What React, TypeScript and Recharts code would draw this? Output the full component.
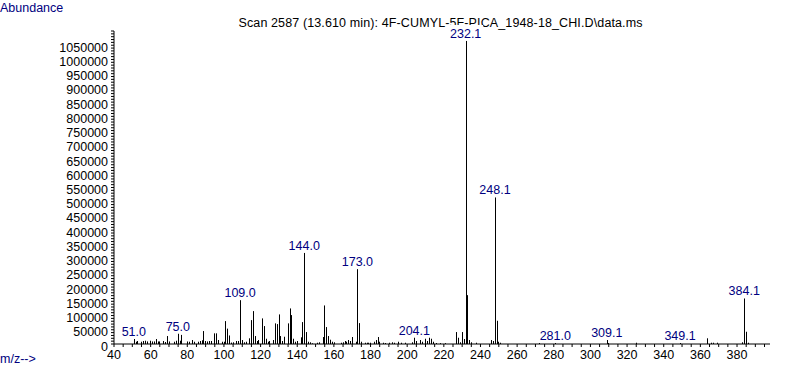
import React from 'react';
import { BarChart, Bar, XAxis, YAxis, LabelList } from 'recharts';

const mzValues: number[] = [
  51, 52, 53, 55, 56, 57, 58, 60, 61, 62, 63, 64, 65, 67, 68, 69, 70, 73, 74, 75,
  76, 77, 80, 81, 83, 84, 86, 87, 88, 89, 90, 91, 92, 93, 95, 96, 97, 99, 100, 101,
  102, 103, 104, 105, 107, 108, 109, 110, 111, 112, 114, 115, 116, 117, 118, 119, 121, 122, 123, 124,
  125, 127, 128, 129, 130, 131, 132, 133, 135, 136, 137, 138, 139, 140, 142, 143, 144, 145, 146, 147,
  148, 151, 152, 154, 155, 156, 157, 158, 159, 160, 164, 165, 166, 167, 168, 169, 170, 172, 173, 174,
  175, 177, 178, 179, 180, 182, 183, 184, 185, 187, 188, 190, 192, 193, 195, 197, 199, 203, 204.1, 205,
  207, 208, 210, 211, 212, 213, 214, 216, 218, 221, 227, 228, 229, 230, 231, 232.1, 233, 234, 235, 238,
  246, 247, 248.1, 249, 250, 251, 272, 281, 309.1, 310, 325, 349.1, 364, 366, 367, 369, 383, 384.1, 385, 386,
];

const abundanceValues: number[] = [
  17500, 8000, 10500, 8000, 10500, 11500, 9000, 11500, 9000, 9000, 17500, 9000, 9000, 10500, 7000, 28000, 9000, 8000, 11500, 36000,
  11500, 32000, 9000, 8000, 14000, 8000, 8000, 10500, 13000, 45500, 10500, 9000, 10500, 10500, 37500, 37500, 14000, 8000, 8000, 80500,
  54000, 30000, 5000, 6000, 10500, 10500, 154000, 14000, 6000, 8000, 20000, 84000, 115600, 28000, 10500, 14000, 90000, 63000, 18500, 8000,
  10500, 14000, 72500, 70000, 104000, 28000, 10500, 25500, 72500, 125000, 101600, 18500, 8000, 10500, 23500, 77000, 320000, 42000, 8000, 6000,
  2500, 4500, 6000, 24500, 135500, 59500, 28000, 15000, 8000, 6000, 4500, 6000, 10500, 8000, 14000, 10500, 24500, 8000, 263000, 73500,
  8000, 4500, 4500, 4500, 4500, 8000, 14000, 24500, 8000, 4500, 3500, 4500, 6000, 4500, 8000, 4500, 4500, 6000, 22000, 10500,
  14000, 8000, 18500, 10500, 22000, 18500, 8000, 3500, 3000, 3000, 42000, 22000, 6000, 42000, 17500, 1065000, 171700, 14000, 6000, 4500,
  14000, 10500, 515000, 81700, 8000, 4500, 3500, 3500, 14000, 3500, 4500, 3500, 20000, 4500, 4500, 4500, 6000, 160000, 43000, 4500,
];

const labeledMz: number[] = [51, 75, 109, 144, 173, 204.1, 232.1, 248.1, 281, 309.1, 349.1, 384.1];
const labelTexts: string[] = ['51.0', '75.0', '109.0', '144.0', '173.0', '204.1', '232.1', '248.1', '281.0', '309.1', '349.1', '384.1'];

const xTickValues: number[] = [];
for (let v = 40; v <= 395; v += 5) xTickValues.push(v);
const yTickValues: number[] = [];
for (let v = 0; v <= 1100000; v += 10000) yTickValues.push(v);

const data = mzValues.map((m, i) => {
  const li = labeledMz.indexOf(m);
  return { mz: m, abundance: abundanceValues[i], label: li >= 0 ? labelTexts[li] : '' };
});

const FONT = '"Liberation Sans", Arial, sans-serif';
const NAVY = '#000080';
const FS = 12.5;

const PeakLine = (props: any) => {
  const { x, y, width, height } = props;
  if (height == null || height <= 0) return <g />;
  const cx = Math.round(x + width / 2) + 0.5;
  return <line x1={cx} x2={cx} y1={y} y2={y + height} stroke="#000" strokeWidth={1} />;
};

const PeakLabel = (props: any) => {
  const { x, y, width, value } = props;
  if (!value) return <g />;
  const cx = x + width / 2;
  const by = y - 3;
  const w = String(value).length * 6.6;
  return (
    <g>
      <rect x={cx - w / 2 - 1} y={by - 13} width={w + 2} height={13} fill="#fff" />
      <text x={cx} y={by} textAnchor="middle" fill={NAVY} fontSize={FS} fontFamily={FONT}>
        {value}
      </text>
    </g>
  );
};

const XTick = (props: any) => {
  const { x, y, payload } = props;
  const v = payload.value;
  if (v % 20 !== 0) return <g />;
  return (
    <text x={x} y={y} dy="0.71em" textAnchor="middle" fill="#000" fontSize={FS} fontFamily={FONT}>
      {v}
    </text>
  );
};

const YTick = (props: any) => {
  const { x, y, payload } = props;
  const v = payload.value;
  if (v % 50000 !== 0 || v > 1050000) return <g />;
  return (
    <text x={x} y={y} dy={6.5} textAnchor="end" fill="#000" fontSize={FS} fontFamily={FONT}>
      {v}
    </text>
  );
};

export default function App() {
  return (
    <div style={{ position: 'absolute', left: 0, top: 0, width: 787, height: 367, background: '#fff' }}>
      <svg width={787} height={367} style={{ position: 'absolute', left: 0, top: 0 }}>
        <text x={0} y={12} fill={NAVY} fontSize={FS} fontFamily={FONT}>Abundance</text>
        <text x={440.5} y={27} textAnchor="middle" fill="#000" fontSize={FS} fontFamily={FONT} textLength={404} lengthAdjust="spacing">
          {'Scan 2587 (13.610 min): 4F-CUMYL-5F-PICA_1948-18_CHI.D\\data.ms'}
        </text>
        <text x={0} y={363} fill={NAVY} fontSize={FS} fontFamily={FONT}>{'m/z-->'}</text>
      </svg>
      <div style={{ position: 'absolute', left: 0, top: 0 }}>
        <BarChart width={787} height={367} data={data} margin={{ top: 31, right: 17, bottom: 3, left: 0 }}>
          <XAxis
            dataKey="mz"
            type="number"
            domain={[40, 398]}
            ticks={xTickValues}
            interval={0}
            tick={<XTick />}
            tickSize={3}
            tickMargin={3}
            height={20}
            axisLine={{ stroke: '#000' }}
            tickLine={{ stroke: '#000' }}
          />
          <YAxis
            type="number"
            domain={[0, 1100000]}
            ticks={yTickValues}
            interval={0}
            tick={<YTick />}
            tickSize={3}
            tickMargin={3}
            width={114}
            axisLine={{ stroke: '#000' }}
            tickLine={{ stroke: '#000' }}
          />
          <Bar dataKey="abundance" barSize={1} shape={<PeakLine />} isAnimationActive={false}>
            <LabelList dataKey="label" content={<PeakLabel />} />
          </Bar>
        </BarChart>
      </div>
    </div>
  );
}
